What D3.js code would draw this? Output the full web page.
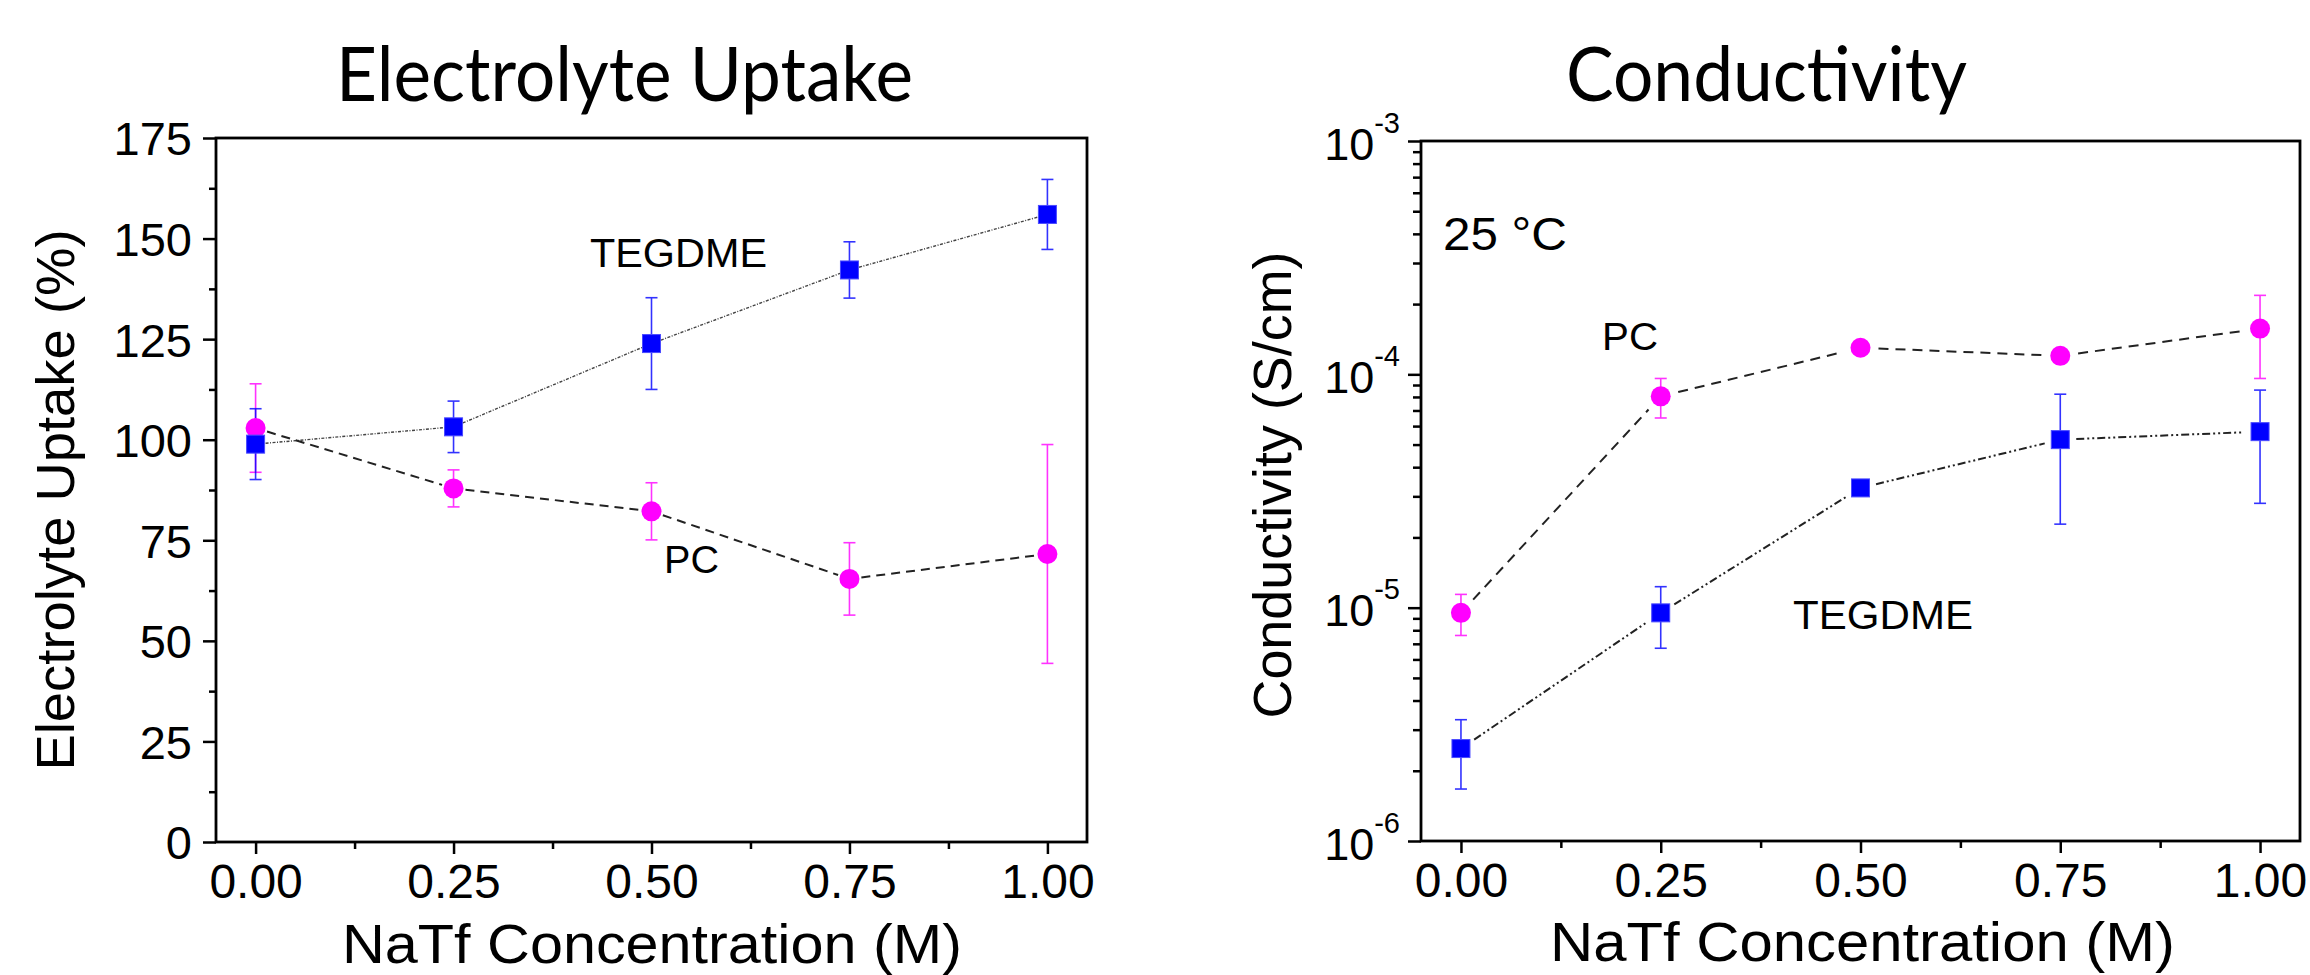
<!DOCTYPE html>
<html>
<head>
<meta charset="utf-8">
<script src="https://cdn.jsdelivr.net/npm/d3@7"></script>
<style>
  html, body { margin: 0; padding: 0; background: #fff; }
  svg { display: block; }
  text { font-family: "Liberation Sans", Arial, sans-serif; fill: #000; }
  .title { font-family: Lato, "Open Sans", sans-serif; }
</style>
</head>
<body>
<div id="chart"></div>
<script>
// Data
const concentrations = [0, 0.25, 0.5, 0.75, 1.0];

const uptakeTEGDME = [98.9, 103.2, 123.9, 142.2, 156.0];
const uptakeTEGDMEErr = [8.8, 6.4, 11.4, 7.0, 8.7];
const uptakePC = [102.9, 87.9, 82.2, 65.4, 71.6];
const uptakePCErr = [11.0, 4.6, 7.1, 9.0, 27.2];

const condPC = [9.5e-6, 8.05e-5, 1.30e-4, 1.20e-4, 1.57e-4];
const condPCErr = [1.9e-6, 1.55e-5, 5e-6, 5e-6, 6.1e-5];
const condTEGDME = [2.49e-6, 9.5e-6, 3.26e-5, 5.25e-5, 5.68e-5];
const condTEGDMEErr = [0.82e-6, 2.8e-6, 1.5e-6, 2.97e-5, 2.88e-5];

// Tick values
const xTicks = [0, 0.25, 0.5, 0.75, 1.0];
const xMinorTicks = [0.125, 0.375, 0.625, 0.875];
const uptakeTicks = [0, 25, 50, 75, 100, 125, 150, 175];
const uptakeMinorTicks = [12.5, 37.5, 62.5, 87.5, 112.5, 137.5, 162.5];
const condTicks = [1e-6, 1e-5, 1e-4, 1e-3];

const BLUE = '#0000ff';
const MAGENTA = '#ff00ff';

const svg = d3.select('#chart')
    .append('svg')
    .attr('width', 2310)
    .attr('height', 975);

// clip for the titles (descenders are cut in the original)
svg.append('defs').append('clipPath')
    .attr('id', 'title-clip')
    .append('rect')
    .attr('x', 0).attr('y', 0).attr('width', 2310).attr('height', 115);

// Scales
const xLeft = d3.scaleLinear().domain([-0.05, 1.05]).range([216, 1087]);
const yLeft = d3.scaleLinear().domain([0, 175]).range([842, 138]);

const xRight = d3.scaleLinear().domain([-0.05, 1.05]).range([1421, 2300]);
const yRight = d3.scaleLog().domain([1e-6, 1e-3]).range([841, 141]);

// log minor ticks 2..9 of each decade
const condMinorTicks = [];
[1e-6, 1e-5, 1e-4].forEach(dec => {
    for (let m = 2; m <= 9; m++) condMinorTicks.push(dec * m);
});

function drawXAxis(x, y) {
    const y0 = y.range()[0];
    const g = svg.append('g').attr('transform', `translate(0,${y0})`);
    g.call(d3.axisBottom(x).tickValues(xMinorTicks).tickSize(7).tickFormat(''))
        .call(a => a.select('.domain').remove());
    g.selectAll('.tick line').attr('stroke', '#000').attr('stroke-width', 2.5);

    const g2 = svg.append('g').attr('transform', `translate(0,${y0})`);
    g2.call(d3.axisBottom(x).tickValues(xTicks).tickSize(12).tickFormat(d3.format('.2f')))
        .call(a => a.select('.domain').remove());
    g2.selectAll('.tick line').attr('stroke', '#000').attr('stroke-width', 2.5);
    g2.selectAll('.tick text')
        .attr('y', 56)
        .attr('dy', 0)
        .style('font-size', '48px')
        .style('font-family', '"Liberation Sans", Arial, sans-serif')
        .attr('fill', '#000');
}

function drawFrame(x, y) {
    const [x0, x1] = x.range();
    const [y0, y1] = y.range();
    svg.append('rect')
        .attr('x', x0).attr('y', y1)
        .attr('width', x1 - x0).attr('height', y0 - y1)
        .attr('fill', 'none')
        .attr('stroke', '#000')
        .attr('stroke-width', 2.8);
}

function drawErrorBars(x, y, vals, errs, color) {
    const g = svg.append('g')
        .attr('stroke', color)
        .attr('stroke-width', 1.6)
        .attr('opacity', 0.8);
    concentrations.forEach((c, i) => {
        const cx = x(c);
        const yTop = y(vals[i] + errs[i]);
        const yBot = y(vals[i] - errs[i]);
        g.append('line').attr('x1', cx).attr('x2', cx).attr('y1', yTop).attr('y2', yBot);
        g.append('line').attr('x1', cx - 6).attr('x2', cx + 6).attr('y1', yTop).attr('y2', yTop);
        g.append('line').attr('x1', cx - 6).attr('x2', cx + 6).attr('y1', yBot).attr('y2', yBot);
    });
}

// connecting lines, with a small gap next to each marker
function drawLine(x, y, vals, dash, width, color, gap) {
    const pts = concentrations.map((c, i) => [x(c), y(vals[i])]);
    const line = d3.line();
    for (let i = 0; i < pts.length - 1; i++) {
        const [ax, ay] = pts[i];
        const [bx, by] = pts[i + 1];
        const len = Math.hypot(bx - ax, by - ay);
        const ux = (bx - ax) / len, uy = (by - ay) / len;
        svg.append('path')
            .attr('d', line([[ax + ux * gap, ay + uy * gap], [bx - ux * gap, by - uy * gap]]))
            .attr('fill', 'none')
            .attr('stroke', color)
            .attr('stroke-width', width)
            .attr('stroke-dasharray', dash);
    }
}

function drawSquares(x, y, vals) {
    svg.append('g').selectAll('rect')
        .data(vals)
        .enter().append('rect')
        .attr('x', (d, i) => x(concentrations[i]) - 9)
        .attr('y', d => y(d) - 9)
        .attr('width', 18)
        .attr('height', 18)
        .attr('fill', BLUE)
        .attr('stroke', '#4a4aff')
        .attr('stroke-width', 1);
}

function drawCircles(x, y, vals) {
    svg.append('g').selectAll('circle')
        .data(vals)
        .enter().append('circle')
        .attr('cx', (d, i) => x(concentrations[i]))
        .attr('cy', d => y(d))
        .attr('r', 10)
        .attr('fill', MAGENTA);
}

function addText(txt, x, y, size, len) {
    const t = svg.append('text')
        .attr('x', x).attr('y', y)
        .style('font-size', size + 'px')
        .text(txt);
    if (len) t.attr('textLength', len).attr('lengthAdjust', 'spacingAndGlyphs');
    return t;
}

// ---------------- Left panel: Electrolyte Uptake ----------------
(function () {
    const gMinor = svg.append('g').attr('transform', 'translate(216,0)');
    gMinor.call(d3.axisLeft(yLeft).tickValues(uptakeMinorTicks).tickSize(7).tickFormat(''))
        .call(a => a.select('.domain').remove());
    gMinor.selectAll('.tick line').attr('stroke', '#000').attr('stroke-width', 2.5);

    const gMajor = svg.append('g').attr('transform', 'translate(216,0)');
    gMajor.call(d3.axisLeft(yLeft).tickValues(uptakeTicks).tickSize(13).tickFormat(d3.format('d')))
        .call(a => a.select('.domain').remove());
    gMajor.selectAll('.tick line').attr('stroke', '#000').attr('stroke-width', 2.5);
    gMajor.selectAll('.tick text')
        .attr('x', -24)
        .attr('dy', '0.36em')
        .style('font-size', '47px')
        .style('font-family', '"Liberation Sans", Arial, sans-serif')
        .attr('fill', '#000');

    drawXAxis(xLeft, yLeft);

    drawErrorBars(xLeft, yLeft, uptakePC, uptakePCErr, MAGENTA);
    drawErrorBars(xLeft, yLeft, uptakeTEGDME, uptakeTEGDMEErr, BLUE);
    drawLine(xLeft, yLeft, uptakeTEGDME, '3,1.5,1,1.5', 1.4, '#444', 10);
    drawLine(xLeft, yLeft, uptakePC, '9,6', 2, '#222', 12);
    drawCircles(xLeft, yLeft, uptakePC);
    drawSquares(xLeft, yLeft, uptakeTEGDME);
    drawFrame(xLeft, yLeft);

    addText('TEGDME', 590, 267, 40, 177);
    addText('PC', 664, 573, 39, 55);

    svg.append('text')
        .attr('transform', 'translate(74,500) rotate(-90)')
        .attr('text-anchor', 'middle')
        .attr('textLength', 541)
        .attr('lengthAdjust', 'spacingAndGlyphs')
        .style('font-size', '54px')
        .text('Electrolyte Uptake (%)');

    svg.append('text')
        .attr('x', 342).attr('y', 963)
        .attr('textLength', 620)
        .attr('lengthAdjust', 'spacingAndGlyphs')
        .style('font-size', '55px')
        .text('NaTf Concentration (M)');

    svg.append('text')
        .attr('class', 'title')
        .attr('clip-path', 'url(#title-clip)')
        .attr('x', 336).attr('y', 101)
        .attr('textLength', 577)
        .attr('lengthAdjust', 'spacingAndGlyphs')
        .style('font-size', '76px')
        .text('Electrolyte Uptake');
})();

// ---------------- Right panel: Conductivity ----------------
(function () {
    const gMinor = svg.append('g').attr('transform', 'translate(1421,0)');
    gMinor.call(d3.axisLeft(yRight).tickValues(condMinorTicks).tickSize(8).tickFormat(''))
        .call(a => a.select('.domain').remove());
    gMinor.selectAll('.tick line').attr('stroke', '#000').attr('stroke-width', 2.5);

    const gMajor = svg.append('g').attr('transform', 'translate(1421,0)');
    gMajor.call(d3.axisLeft(yRight).tickValues(condTicks).tickSize(13).tickFormat(''))
        .call(a => a.select('.domain').remove());
    gMajor.selectAll('.tick line').attr('stroke', '#000').attr('stroke-width', 2.5);
    gMajor.selectAll('.tick text')
        .attr('x', -21)
        .attr('dy', 0)
        .attr('y', 18)
        .attr('fill', '#000')
        .style('font-family', '"Liberation Sans", Arial, sans-serif')
        .each(function (d) {
            const t = d3.select(this);
            t.append('tspan').style('font-size', '45px').text('10');
            t.append('tspan')
                .style('font-size', '29px')
                .attr('dy', -27)
                .text(String(Math.round(Math.log10(d))));
        });

    drawXAxis(xRight, yRight);

    drawErrorBars(xRight, yRight, condPC, condPCErr, MAGENTA);
    drawErrorBars(xRight, yRight, condTEGDME, condTEGDMEErr, BLUE);
    drawLine(xRight, yRight, condPC, '10,7', 2, '#222', 18);
    drawLine(xRight, yRight, condTEGDME, '8,3,2,3,2,3', 2, '#222', 16);
    drawCircles(xRight, yRight, condPC);
    drawSquares(xRight, yRight, condTEGDME);
    drawFrame(xRight, yRight);

    addText('25 °C', 1443, 250, 46, 124);
    addText('PC', 1602, 350, 39, 56);
    addText('TEGDME', 1793, 629, 40, 180);

    svg.append('text')
        .attr('transform', 'translate(1291,485) rotate(-90)')
        .attr('text-anchor', 'middle')
        .attr('textLength', 467)
        .attr('lengthAdjust', 'spacingAndGlyphs')
        .style('font-size', '54px')
        .text('Conductivity (S/cm)');

    svg.append('text')
        .attr('x', 1550).attr('y', 961)
        .attr('textLength', 625)
        .attr('lengthAdjust', 'spacingAndGlyphs')
        .style('font-size', '55px')
        .text('NaTf Concentration (M)');

    svg.append('text')
        .attr('class', 'title')
        .attr('clip-path', 'url(#title-clip)')
        .attr('x', 1566).attr('y', 101)
        .attr('textLength', 401)
        .attr('lengthAdjust', 'spacingAndGlyphs')
        .style('font-size', '76px')
        .text('Conductivity');
})();
</script>
</body>
</html>
